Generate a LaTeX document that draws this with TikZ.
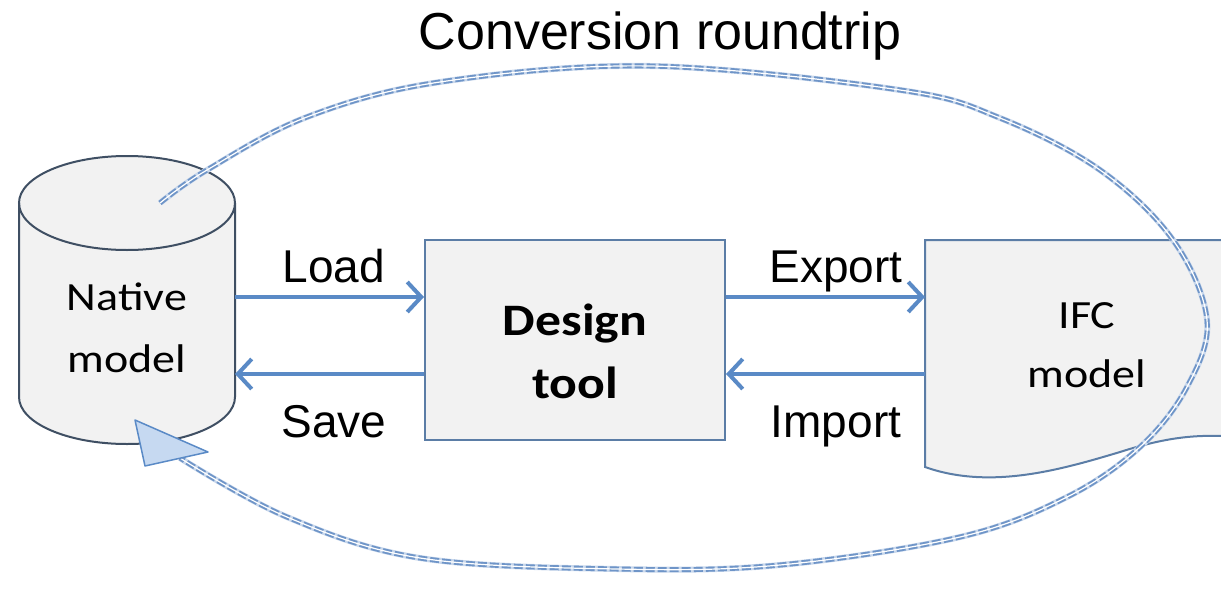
\documentclass[tikz,border=0pt]{standalone}
\usepackage{fontspec}
\setmainfont{Liberation Sans}
\newfontfamily\calfont[FakeStretch=1.15]{Carlito}
\usetikzlibrary{arrows.meta}
\definecolor{arrowblue}{HTML}{5A8AC6}
\definecolor{edgeblue}{HTML}{5B7DA6}
\definecolor{darkedge}{HTML}{3F4F63}
\definecolor{paper}{HTML}{F2F2F2}
\definecolor{loopblue}{HTML}{6F95C8}
\definecolor{looplight}{HTML}{C9D8EC}
\definecolor{headfill}{HTML}{C6D9F1}
\tikzset{
  flow/.style={draw=arrowblue, line width=4.5pt, -{Straight Barb[length=14pt,width=30pt,line width=4pt]}},
  lbl/.style={font=\fontsize{46}{50}\selectfont, anchor=base, inner sep=0pt},
  boxtext/.style={font=\calfont\fontsize{40}{62}\selectfont, align=center, inner sep=0pt},
  boldtext/.style={font=\calfont\bfseries\fontsize{45}{62}\selectfont, anchor=base, inner sep=0pt},
  looplightstyle/.style={draw=looplight, line width=6pt},
  loopbase/.style={draw=loopblue, line width=5pt, dash pattern=on 9pt off 3pt},
  loopcore/.style={draw=white, line width=1.2pt},
}
\begin{document}
\begin{tikzpicture}[x=1pt,y=-1pt]
\useasboundingbox (0,0) rectangle (1221,592);
% cylinder
\fill[paper] (19,203) -- (19,397) arc[start angle=180,end angle=360,x radius=108,y radius=-47] -- (235,203) -- cycle;
\fill[paper] (127,203) ellipse[x radius=108,y radius=47];
\draw[darkedge, line width=2pt] (19,203) -- (19,397) arc[start angle=180,end angle=360,x radius=108,y radius=-47] -- (235,203);
\draw[darkedge, line width=2pt] (127,203) ellipse[x radius=108,y radius=47];
\node[boxtext, anchor=base] (native1) at (127,310) {Native};
\node[boxtext, anchor=base] (native2) at (127,372) {model};
\coordinate (natR1) at (235,297);
\coordinate (natR2) at (235,374);
% design tool box
\node[draw=edgeblue, fill=paper, line width=2pt, minimum width=300pt, minimum height=200pt] (tool) at (575,340) {};
\node[boldtext] (design1) at (575,335) {Design};
\node[boldtext] (design2) at (575,398) {tool};
% IFC document
\path[fill=paper, draw=edgeblue, line width=2pt] (925,467) -- (925,240) -- (1240,240) -- (1240,437)
  .. controls (1200,434) and (1170,436) .. (1120,452)
  .. controls (1060,470) and (990,490) .. (925,467) -- cycle;
\node[boxtext, anchor=base] (ifc1) at (1087,328) {IFC};
\node[boxtext, anchor=base] (ifc2) at (1087,387) {model};
\coordinate (ifcL1) at (925,297);
\coordinate (ifcL2) at (925,374);
% flows
\draw[flow] (natR1) -- (tool.west |- natR1);
\draw[flow] (tool.west |- natR2) -- (natR2);
\draw[flow] (tool.east |- ifcL1) -- (ifcL1);
\draw[flow] (ifcL2) -- (tool.east |- ifcL2);
\node[lbl] (load) at (334,282) {Load};
\node[lbl] (save) at (334,437) {Save};
\node[lbl] (export) at (836,282) {Export};
\node[lbl] (import) at (836,437) {Import};
% title
\node[font=\fontsize{52}{56}\selectfont, anchor=base, inner sep=0pt] (title) at (660,49) {Conversion roundtrip};
% loop
\coordinate (loopstart) at (160,203);
\coordinate (loopend) at (180,458);
\def\looppath{plot[smooth, tension=0.6] coordinates {(160,203) (207,170) (307,117) (440,82) (650,66) (900,90) (1000,118) (1100,170) (1173,240) (1207,320) (1187,387) (1140,447) (1067,497) (960,537) (780,565) (617,569) (420,558) (287,517) (180,458)}}
\draw[looplightstyle] \looppath;
\draw[loopbase] \looppath;
\draw[loopcore] \looppath;
\coordinate (tip) at (135,420);
\draw[draw=arrowblue, fill=headfill, line width=1.5pt, line join=round] (tip) -- (145,466) -- (208,452) -- cycle;
\end{tikzpicture}
\end{document}
